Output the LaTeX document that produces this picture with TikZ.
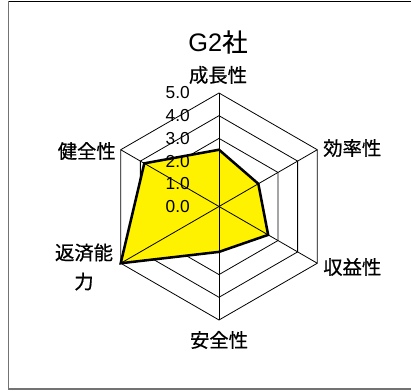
\documentclass[tikz,border=0pt]{standalone}
\usepackage{fontspec}
\setmainfont{Liberation Sans}
\newfontfamily\jp{Noto Sans CJK JP}[FakeBold=0.6]
\begin{document}
\begin{tikzpicture}[x=0.75pt,y=0.75pt,
  ring/.style={draw=black,line width=0.6pt},
  spoke/.style={draw=black,line width=0.6pt},
  series/.style={draw=black,line width=1.9pt,line join=miter},
  seriesfill/.style={fill=yellow},
  axlabel/.style={font=\jp\fontsize{14.5}{21.75}\selectfont,inner sep=0pt},
  ticklabel/.style={font=\fontsize{13}{14}\selectfont,inner sep=0pt,anchor=east},
  titlelabel/.style={inner sep=0pt}]
\useasboundingbox (0,0) rectangle (411,391);
% frame
\draw[black,line width=0.9pt] (8.5,389.5) -- (411,389.5);
\draw[black!55,line width=1.3pt] (8.5,389.5) -- (8.5,2) -- (411,2);
\begin{scope}[shift={(219,184.5)}]
  \foreach \k in {1,...,5}{
    \pgfmathsetmacro\r{\k*22.7}
    \draw[ring] (90:\r) -- (30:\r) -- (-30:\r) -- (-90:\r) -- (210:\r) -- (150:\r) -- cycle;
  }
  \fill[seriesfill] (90:56.75) -- (30:45.4) -- (-30:56.75) -- (-90:45.4) -- (210:113.5) -- (150:86.26) -- cycle;
  \foreach \a in {90,30,-30,-90,210,150}{
    \draw[spoke] (0,0) -- (\a:113.5);
  }
  \draw[series] (90:56.75) -- (30:45.4) -- (-30:56.75) -- (-90:45.4) -- (210:113.5) -- (150:86.26) -- cycle;
\end{scope}
% tick labels
\node[ticklabel] (t0) at (190,184.5) {0.0};
\node[ticklabel] (t1) at (190,207.2) {1.0};
\node[ticklabel] (t2) at (190,229.9) {2.0};
\node[ticklabel] (t3) at (190,252.6) {3.0};
\node[ticklabel] (t4) at (190,275.3) {4.0};
\node[ticklabel] (t5) at (190,298.0) {5.0};
% axis labels
\node[axlabel] (growth) at (218,316) {成長性};
\node[axlabel,anchor=west] (eff) at (323,243) {効率性};
\node[axlabel,anchor=west] (profit) at (323,124) {収益性};
\node[axlabel] (safety) at (219,51) {安全性};
\node[axlabel,align=center] (repay) at (84,124) {返済能\\力};
\node[axlabel,anchor=east] (health) at (116,240) {健全性};
% title
\node[titlelabel] (title) at (218,349) {\fontsize{19}{22}\selectfont G2{\jp 社}};
\end{tikzpicture}
\end{document}
